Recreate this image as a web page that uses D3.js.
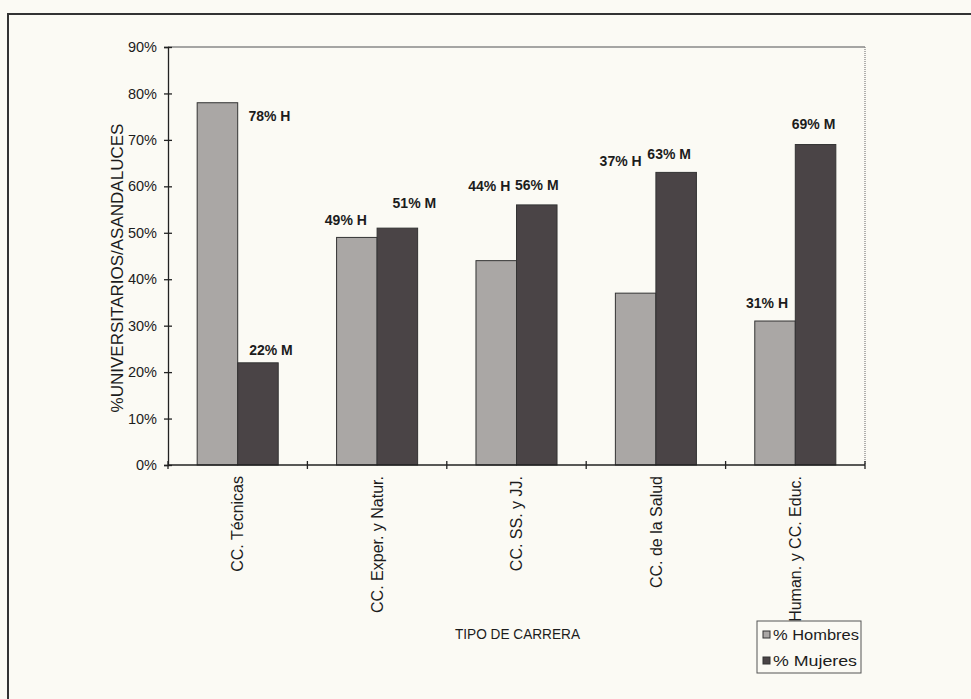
<!DOCTYPE html>
<html><head><meta charset="utf-8">
<script src="https://cdn.jsdelivr.net/npm/d3@7"></script>
<style>
html,body{margin:0;padding:0;background:#fbfaf4;}
svg{display:block;}
text{font-family:"Liberation Sans",Arial,sans-serif;fill:#1c1c1c;}
</style></head>
<body><svg id="c" width="971" height="699"></svg>
<script>
const categories = ["CC. Técnicas","CC. Exper. y Natur.","CC. SS. y JJ.","CC. de la Salud","Human. y CC. Educ."];
const hombres = [78,49,44,37,31];
const mujeres = [22,51,56,63,69];
const seriesNames = ["% Hombres","% Mujeres"];
const seriesSuffix = ["H","M"];
const yTicks = [0,10,20,30,40,50,60,70,80,90];
const yTitle = "%UNIVERSITARIOS/ASANDALUCES";
const xTitle = "TIPO DE CARRERA";
// label offsets (px) relative to bar centre / top, as placed in the original
const labelOffsetH = [[52,13],[-11,-17],[-7,-75],[-15,-132],[-8,-18]];
const labelOffsetM = [[13,-13],[17,-25],[0,-20],[-7,-18],[-2,-20]];

const svg = d3.select("#c");
const colors = ["#aaa7a5","#4a4446"];
const L=168,R=865,T=47,B=465;

// outer frame
svg.append("line").attr("x1",8).attr("x2",971).attr("y1",14).attr("y2",14).attr("stroke","#333").attr("stroke-width",2);
svg.append("line").attr("x1",8).attr("x2",8).attr("y1",13).attr("y2",699).attr("stroke","#333").attr("stroke-width",2);

const x0 = d3.scaleBand().domain(categories).range([L,R]).paddingInner(0).paddingOuter(0);
const x1 = d3.scaleBand().domain([0,1]).range([0,x0.bandwidth()]).paddingOuter(0.72).paddingInner(0);
const y = d3.scaleLinear().domain([0,90]).range([B,T]);

// plot border top/right
svg.append("line").attr("x1",L).attr("x2",R).attr("y1",T).attr("y2",T).attr("stroke","#888").attr("stroke-width",1.3);
svg.append("line").attr("x1",R).attr("x2",R).attr("y1",T).attr("y2",B).attr("stroke","#888").attr("stroke-width",1.3).attr("stroke-dasharray","1,1");

const data = categories.map((c,i)=>({c,i,vals:[hombres[i],mujeres[i]]}));
const g = svg.append("g");
data.forEach(d=>{
  d.vals.forEach((v,s)=>{
    g.append("rect")
      .attr("x",x0(d.c)+x1(s)).attr("width",x1.bandwidth())
      .attr("y",y(v)).attr("height",y(0)-y(v))
      .attr("fill",colors[s]).attr("stroke","#333").attr("stroke-width",1);
    const off = s===0?labelOffsetH[d.i]:labelOffsetM[d.i];
    g.append("text")
      .attr("x",x0(d.c)+x1(s)+x1.bandwidth()/2+off[0])
      .attr("y",y(v)+off[1])
      .attr("dy","0.35em").attr("text-anchor","middle")
      .attr("font-size",14).attr("font-weight","bold")
      .text(v+"% "+seriesSuffix[s]);
  });
});

// y axis
const yAxis = d3.axisLeft(y).tickValues(yTicks).tickFormat(d=>d+"%").tickSize(4).tickPadding(7);
const ya = svg.append("g").attr("transform",`translate(${L},0)`).call(yAxis);
ya.select(".domain").attr("stroke","#222").attr("stroke-width",1.3);
ya.selectAll(".tick line").attr("x2",4).attr("x1",-4).attr("stroke","#222").attr("stroke-width",1.3);
ya.selectAll(".tick text").attr("font-size",14.5).attr("font-family","Liberation Sans, Arial, sans-serif").attr("fill","#1c1c1c");

// x axis
const xa = svg.append("g").attr("transform",`translate(0,${B})`);
xa.append("line").attr("x1",L).attr("x2",R).attr("stroke","#222").attr("stroke-width",1.3);
const bounds = categories.map(c=>x0(c)).concat([R]);
xa.selectAll("line.tk").data(bounds).join("line").attr("class","tk")
  .attr("x1",d=>d).attr("x2",d=>d).attr("y1",-4).attr("y2",4).attr("stroke","#222").attr("stroke-width",1.3);
xa.selectAll("text.cat").data(categories).join("text").attr("class","cat")
  .attr("transform",d=>`translate(${x0(d)+x0.bandwidth()/2},11) rotate(-90)`)
  .attr("text-anchor","end").attr("dy","0.35em").attr("font-size",16)
  .text(d=>d);

// titles
svg.append("text").attr("transform",`translate(117,268) rotate(-90)`)
  .attr("text-anchor","middle").attr("dy","0.35em").attr("font-size",17).text(yTitle);
svg.append("text").attr("x",455).attr("y",634).attr("dy","0.35em")
  .attr("font-size",15).attr("textLength",125).attr("lengthAdjust","spacingAndGlyphs").text(xTitle);

// legend
const lg = svg.append("g").attr("transform","translate(757,621)");
lg.append("rect").attr("width",104).attr("height",52).attr("fill","#fbfaf4").attr("stroke","#555").attr("stroke-width",1);
const legendLen = [86,84];
seriesNames.forEach((n,s)=>{
  lg.append("rect").attr("x",6).attr("y",10+s*26).attr("width",7).attr("height",7).attr("fill",colors[s]).attr("stroke","#333");
  lg.append("text").attr("x",16).attr("y",14+s*26).attr("dy","0.35em").attr("font-size",14)
    .attr("textLength",legendLen[s]).attr("lengthAdjust","spacingAndGlyphs").text(n);
});
</script></body></html>
